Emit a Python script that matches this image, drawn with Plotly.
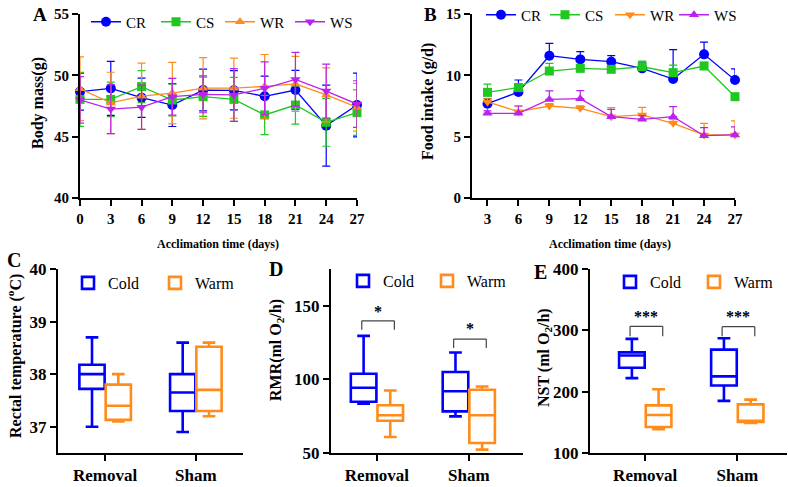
import plotly.graph_objects as go

SERIF = "Liberation Serif"
BLUE = "#0000FF"
GREEN = "#1EC81E"
ORANGE = "#FF8C1A"
PURPLE = "#BB22EE"

# ---------------- Panel A: body mass ----------------
days_a = [0, 3, 6, 9, 12, 15, 18, 21, 24, 27]
bm_cr = [48.67, 48.94, 48.18, 47.58, 48.80, 48.78, 48.29, 48.80, 45.90, 47.58]
bm_cr_err = [1.5, 2.2, 1.6, 1.75, 1.7, 1.6, 1.65, 1.6, 3.3, 2.6]
bm_cs = [48.04, 48.04, 49.08, 47.99, 48.26, 48.04, 46.77, 47.58, 46.17, 46.96]
bm_cs_err = [2.2, 1.4, 1.3, 1.3, 1.6, 1.8, 1.6, 1.55, 1.95, 1.85]
bm_wr = [48.9, 47.75, 48.3, 48.55, 48.95, 48.95, 49.1, 49.3, 48.4, 47.4]
bm_wr_err = [2.6, 2.5, 2.7, 2.5, 2.5, 2.45, 2.6, 2.25, 2.2, 1.95]
bm_ws = [48.0, 47.25, 47.4, 48.26, 48.45, 48.4, 48.94, 49.67, 48.72, 47.66]
bm_ws_err = [1.9, 2.0, 1.8, 1.5, 1.5, 2.15, 2.15, 2.2, 2.2, 1.9]

# ---------------- Panel B: food intake ----------------
days_b = [3, 6, 9, 12, 15, 18, 21, 24, 27]
fi_cr = [7.69, 8.64, 11.6, 11.3, 11.11, 10.57, 9.7, 11.71, 9.62]
fi_cr_err = [0.4, 0.98, 1.0, 0.63, 0.5, 0.5, 2.4, 1.0, 0.9]
fi_cs = [8.61, 9.0, 10.35, 10.57, 10.49, 10.7, 10.22, 10.76, 8.26]
fi_cs_err = [0.68, 0.3, 0.63, 0.2, 0.2, 0.47, 0.62, 0.3, 0.2]
fi_wr = [7.83, 7.04, 7.5, 7.31, 6.63, 6.77, 6.09, 5.14, 5.14]
fi_wr_err = [0.3, 0.46, 0.2, 0.2, 0.73, 0.62, 0.3, 0.95, 1.15]
fi_ws = [6.9, 6.9, 8.04, 8.1, 6.63, 6.41, 6.63, 5.08, 5.14]
fi_ws_err = [0.2, 0.6, 0.7, 0.65, 0.6, 0.3, 0.82, 0.65, 0.66]

# ---------------- Panels C-E: box plots ----------------
groups = ["Removal", "Sham"]
rt_cold = dict(lo=[37.0, 36.9], q1=[37.72, 37.3], med=[38.0, 37.65], q3=[38.18, 38.0], hi=[38.7, 38.6])
rt_warm = dict(lo=[37.1, 37.2], q1=[37.13, 37.3], med=[37.4, 37.7], q3=[37.8, 38.52], hi=[38.0, 38.6])
rmr_cold = dict(lo=[83.5, 74.9], q1=[84.8, 78.3], med=[94.3, 91.9], q3=[103.8, 105.0], hi=[129.6, 118.3])
rmr_warm = dict(lo=[60.9, 52.3], q1=[71.9, 56.8], med=[75.6, 75.6], q3=[82.4, 93.0], hi=[92.5, 95.2])
nst_cold = dict(lo=[222, 185], q1=[239, 210], med=[259, 225], q3=[264, 268.5], hi=[286, 287])
nst_warm = dict(lo=[139, 149], q1=[142.4, 150.5], med=[162, 152.7], q3=[177.7, 179.3], hi=[204, 187])

# significance brackets: (group index, bracket top, bracket foot, star y, label)
sig_d = [(0, 139.8, 133.7, 146.2, "*"), (1, 127.4, 121.3, 134.4, "*")]
sig_e = [(0, 306.5, 290.2, 322.8, "***"), (1, 306.0, 290.2, 322.0, "***")]

W, H = 788, 487


def px_x(a, b):
    return [a / W, b / W]


def px_y(top, bottom):
    return [1 - bottom / H, 1 - top / H]


fig = go.Figure()
legends = {}
_leg_count = [0]


def new_legend(cx, cy, fsize):
    _leg_count[0] += 1
    n = _leg_count[0]
    lid = "legend" if n == 1 else "legend%d" % n
    legends[lid] = dict(orientation="h", x=(cx - 21) / W, y=1 - cy / H, xanchor="left",
                        yanchor="middle", bgcolor="rgba(0,0,0,0)",
                        font=dict(family=SERIF, size=fsize, color="black"),
                        itemclick=False, itemdoubleclick=False)
    return lid


def line_trace(x, y, err, name, color, symbol, xa, ya, leg, up_only=False, size=9):
    ey = dict(type="data", array=err, color=color, thickness=1.2, width=4, visible=True)
    if up_only:
        ey.update(symmetric=False, arrayminus=[0] * len(err))
    fig.add_trace(go.Scatter(
        x=x, y=y, name=name, mode="lines+markers", xaxis=xa, yaxis=ya,
        line=dict(color=color, width=1.3),
        marker=dict(color=color, symbol=symbol, size=size),
        error_y=ey, legend=new_legend(*leg, 15), cliponaxis=False,
    ))


line_trace(days_a, bm_cr, bm_cr_err, "CR", BLUE, "circle", "x", "y", (107, 22), size=10)
line_trace(days_a, bm_cs, bm_cs_err, "CS", GREEN, "square", "x", "y", (177, 22))
line_trace(days_a, bm_wr, bm_wr_err, "WR", ORANGE, "triangle-up", "x", "y", (241, 22))
line_trace(days_a, bm_ws, bm_ws_err, "WS", PURPLE, "triangle-down", "x", "y", (311, 22))

line_trace(days_b, fi_cr, fi_cr_err, "CR", BLUE, "circle", "x2", "y2", (502, 15), True, size=10)
line_trace(days_b, fi_cs, fi_cs_err, "CS", GREEN, "square", "x2", "y2", (566, 15), True)
line_trace(days_b, fi_wr, fi_wr_err, "WR", ORANGE, "triangle-down", "x2", "y2", (631, 15), True)
line_trace(days_b, fi_ws, fi_ws_err, "WS", PURPLE, "triangle-up", "x2", "y2", (695, 15), True)


def box_trace(stats, name, color, xa, ya, leg):
    fig.add_trace(go.Box(
        x=groups, lowerfence=stats["lo"], q1=stats["q1"], median=stats["med"],
        q3=stats["q3"], upperfence=stats["hi"], name=name, xaxis=xa, yaxis=ya,
        line=dict(color=color, width=2.6), fillcolor="rgba(255,255,255,0)",
        whiskerwidth=0.5, boxpoints=False, legend=new_legend(*leg, 16), offsetgroup=name,
    ))


box_trace(rt_cold, "Cold", BLUE, "x3", "y3", (89, 283))
box_trace(rt_warm, "Warm", ORANGE, "x3", "y3", (176, 283))
box_trace(rmr_cold, "Cold", BLUE, "x4", "y4", (364, 281))
box_trace(rmr_warm, "Warm", ORANGE, "x4", "y4", (448, 281))
box_trace(nst_cold, "Cold", BLUE, "x5", "y5", (631, 282))
box_trace(nst_warm, "Warm", ORANGE, "x5", "y5", (715, 282))


def axis(domain, anchor, fsize, **kw):
    d = dict(domain=domain, anchor=anchor, showline=True, linecolor="black", linewidth=2,
             ticks="outside", ticklen=6, tickwidth=2, tickcolor="black", showgrid=False,
             zeroline=False, mirror=False, automargin=False,
             tickfont=dict(family=SERIF, size=fsize, color="black", weight="bold"))
    d.update(kw)
    return d


ya_dom = px_y(14, 198)
yc_dom = px_y(269, 453)

layout = dict(
    width=W, height=H, margin=dict(l=0, r=0, t=0, b=0, autoexpand=False),
    paper_bgcolor="white", plot_bgcolor="white",
    boxmode="group", boxgap=0.42, boxgroupgap=0.04,
    xaxis=axis(px_x(80, 357), "y", 15, range=[0, 27], tickvals=days_a),
    yaxis=axis(ya_dom, "x", 15, range=[40, 55], tickvals=[40, 45, 50, 55]),
    xaxis2=axis(px_x(472, 735), "y2", 15, range=[1.5, 27], tickvals=days_b),
    yaxis2=axis(ya_dom, "x2", 15, range=[0, 15], tickvals=[0, 5, 10, 15]),
    xaxis3=axis(px_x(58, 243), "y3", 17, type="category", range=[-0.52, 1.52]),
    yaxis3=axis(yc_dom, "x3", 17, range=[36.5, 40], tickvals=[37, 38, 39, 40]),
    xaxis4=axis(px_x(331, 523), "y4", 17, type="category", range=[-0.5, 1.59]),
    yaxis4=axis(yc_dom, "x4", 17, range=[50, 175], tickvals=[50, 100, 150]),
    xaxis5=axis(px_x(590, 787), "y5", 17, type="category", range=[-0.6, 1.54]),
    yaxis5=axis(yc_dom, "x5", 17, range=[100, 400], tickvals=[100, 200, 300, 400]),
    showlegend=True,
)
layout.update(legends)
fig.update_layout(**layout)

annotations = []


def text(x, y, s, size, bold=True, angle=0):
    annotations.append(dict(x=x / W, y=1 - y / H, xref="paper", yref="paper", text=s,
                            showarrow=False, textangle=angle, xanchor="center", yanchor="middle",
                            font=dict(family=SERIF, size=size, color="black",
                                      weight="bold" if bold else "normal")))


# panel letters
text(40, 15, "A", 19)
text(430, 15, "B", 19)
text(14, 260, "C", 20)
text(276, 269, "D", 20)
text(540, 272, "E", 20)
# y titles
text(38, 103, "Body mass(g)", 16, angle=-90)
text(428, 101, "Food intake (g/d)", 16, angle=-90)
text(14, 356, "Rectal temperature (<sup>o</sup>C)", 16, angle=-90)
text(276, 350, "RMR(ml O<sub>2</sub>/h)", 16, angle=-90)
text(544, 358, "NST (ml O<sub>2</sub>/h)", 16, angle=-90)
# x titles
text(218, 244, "Acclimation time (days)", 12)
text(610, 244, "Acclimation time (days)", 12)

shapes = []
for xa, ya, sigs in (("x4", "y4", sig_d), ("x5", "y5", sig_e)):
    for gi, top, foot, star, lab in sigs:
        xl, xr = gi - 0.165, gi + 0.19
        for (x0, y0, x1, y1) in ((xl, foot, xl, top), (xl, top, xr, top), (xr, top, xr, foot)):
            shapes.append(dict(type="line", xref=xa, yref=ya, x0=x0, y0=y0, x1=x1, y1=y1,
                               line=dict(color="#444", width=1.2)))
        annotations.append(dict(x=gi + 0.01, y=star, xref=xa, yref=ya, text=lab, showarrow=False,
                                font=dict(family=SERIF, size=16, color="black", weight="bold"),
                                xanchor="center", yanchor="middle"))

fig.update_layout(annotations=annotations, shapes=shapes)
fig.write_html("out.html", config={"displayModeBar": False},
               post_script="document.body.style.margin='0px';")
